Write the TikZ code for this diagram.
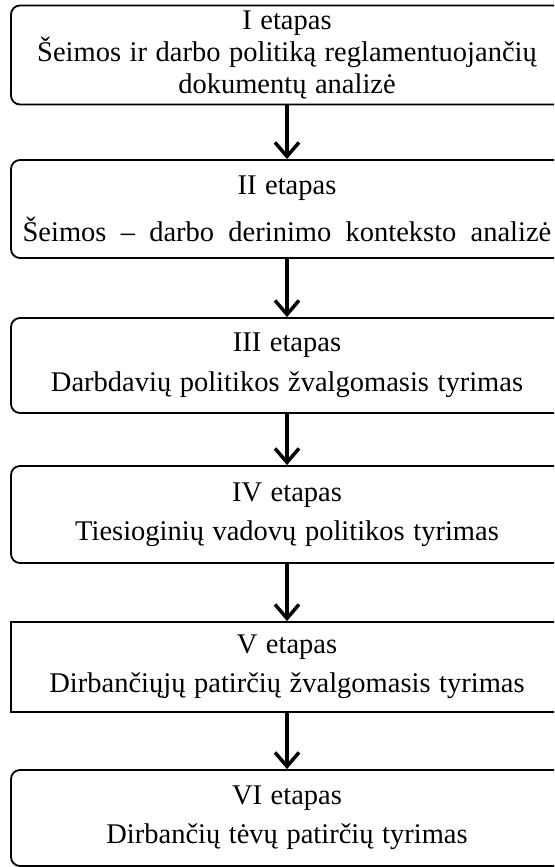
\documentclass[tikz,border=0pt]{standalone}
\usepackage{fontspec}
\setmainfont{Liberation Serif}
\usetikzlibrary{arrows.meta}
% stage text: large serif with generous word spacing
\newcommand{\stagefont}{\fontsize{28.5}{32}\selectfont\spaceskip=0.3em\relax}
\begin{document}
\begin{tikzpicture}[x=1pt,y=-1pt,
  stagebox/.style={draw=black, line width=1.8pt, rounded corners=9pt,
    minimum width=552pt, inner sep=0pt, align=center,
    font=\stagefont},
  flowarrow/.style={line width=3.5pt, -{Straight Barb[length=14pt,width=24pt,line width=3.5pt]}}
]
\useasboundingbox (0,0) rectangle (554,867);
\clip (0,0) rectangle (554,867);

% six stages, top to bottom
\node[stagebox, minimum height=99pt] (s1) at (287,55)
  {I etapas\\ Šeimos ir darbo politiką reglamentuojančių\\ dokumentų analizė};
\node[stagebox, minimum height=98pt] (s2) at (287,209)
  {II etapas\\[15pt] {\spaceskip=0.5em\relax Šeimos – darbo derinimo konteksto analizė}};
\node[stagebox, minimum height=95pt] (s3) at (287,365.5)
  {III etapas\\[8pt] Darbdavių politikos žvalgomasis tyrimas};
\node[stagebox, minimum height=97pt] (s4) at (287,514.5)
  {IV etapas\\[7pt] Tiesioginių vadovų politikos tyrimas};
\node[stagebox, rounded corners=0pt, minimum height=90pt] (s5) at (287,667)
  {V etapas\\[7pt] Dirbančiųjų patirčių žvalgomasis tyrimas};
\node[stagebox, minimum height=96pt] (s6) at (287,818)
  {VI etapas\\[7pt] Dirbančių tėvų patirčių tyrimas};

% connectors between consecutive stages
\foreach \a/\b in {s1/s2, s2/s3, s3/s4, s4/s5, s5/s6}
  \draw[flowarrow] (\a.south) -- (\b.north);
\end{tikzpicture}
\end{document}
